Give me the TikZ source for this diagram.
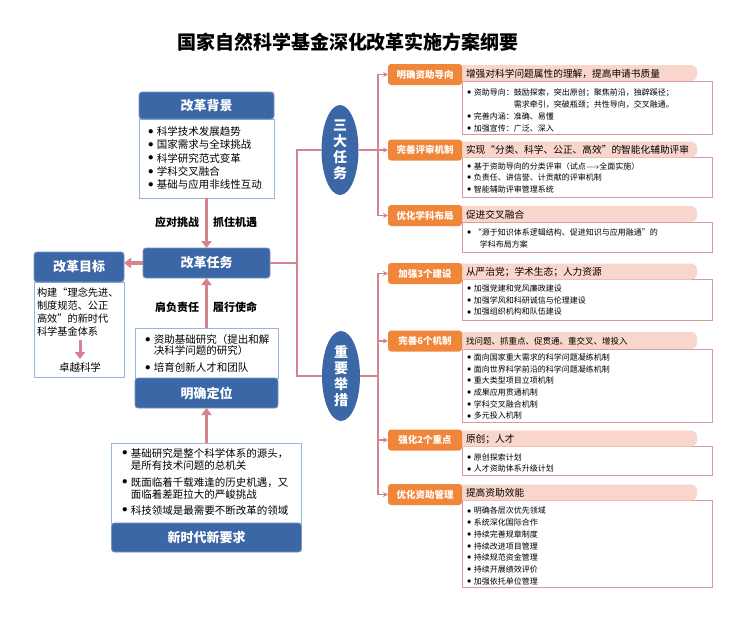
\documentclass[tikz,border=0pt]{standalone}
\usepackage{fontspec}
\setmainfont{Noto Sans CJK SC}
\usetikzlibrary{shapes.geometric,arrows.meta}
\definecolor{hblue}{RGB}{60,103,167}
\definecolor{bblue}{RGB}{150,180,222}
\definecolor{torange}{RGB}{240,134,58}
\definecolor{bpink}{RGB}{249,214,203}
\definecolor{epink}{RGB}{214,152,162}
\definecolor{lpink}{RGB}{212,132,142}
\newcommand\fsz[2]{\fontsize{#1}{#2}\selectfont}
\newcommand\bul{\makebox[0.85em][l]{\raisebox{0.1em}{$\bullet$}}}
\newcommand\ind{\hspace*{0.85em}}
\begin{document}
\begin{tikzpicture}[x=1pt,y=-1pt,line width=0.8pt,
every node/.style={inner sep=0pt,outer sep=0pt},
bluehead/.style={fill=hblue,draw=hblue!70!white,rounded corners=3pt,text=white,font=\bfseries\fsz{13}{13}},
bluebody/.style={draw=bblue,fill=white},
lefttext/.style={align=left,anchor=west,font=\fsz{10.5}{13.4}},
tagtext/.style={font=\bfseries\fsz{11}{11}},
fatarrow/.style={draw=lpink,line width=3.5pt,-{Triangle[length=7pt,width=10pt]}},
oval/.style={ellipse,fill=hblue,text=white,minimum width=37,minimum height=90,align=center,font=\bfseries\fsz{14}{16}},
pinkline/.style={draw=lpink,line width=1.2pt},
pinkarrow/.style={pinkline,-{Stealth[length=5pt,width=5pt]}},
orangetag/.style={fill=torange,rounded corners=3pt,text=white,minimum width=74,minimum height=21,font=\bfseries\fsz{9.5}{9.5}},
band/.style={fill=bpink,rounded corners=6pt,minimum width=242,minimum height=16},
bandtext/.style={anchor=west,font=\fsz{9.7}{9.7}},
pinkbody/.style={draw=epink,fill=white,line width=1pt,minimum width=250},
righttext/.style={align=left,anchor=west,font=\fsz{8}{11.7}}]
\fill[white,use as bounding box] (0,0) rectangle (756,621);
\node[font=\bfseries\fsz{19}{19}] (TT) at (348,42) {国家自然科学基金深化改革实施方案纲要};
% left column
\node[bluebody,minimum width=135,minimum height=79] (BGb) at (206.5,158.5) {};
\node[bluehead,minimum width=135,minimum height=27] (BG) at (206.5,105.5) {改革背景};
\node[lefttext] (BGt) at (148,158) {\bul 科学技术发展趋势\\ \bul 国家需求与全球挑战\\ \bul 科学研究范式变革\\ \bul 学科交叉融合\\ \bul 基础与应用非线性互动};
\node[bluehead,minimum width=127,minimum height=30] (RT) at (206.5,263) {改革任务};
\node[bluebody,minimum width=90,minimum height=95] (GLb) at (79,329.5) {};
\node[bluehead,minimum width=90,minimum height=30] (GL) at (79,267) {改革目标};
\node[lefttext,font=\fsz{10.2}{13}] (GLt) at (37,312.5) {构建“理念先进、\\制度规范、公正\\高效”的新时代\\科学基金体系};
\node[font=\fsz{10.5}{10.5}] (GLe) at (80,367) {卓越科学};
\node[bluebody,minimum width=143,minimum height=50] (PSb) at (206.5,353) {};
\node[bluehead,minimum width=143,minimum height=30] (PS) at (206.5,393) {明确定位};
\node[lefttext,font=\fsz{10.5}{11.5}] (PSt) at (145,353) {\bul 资助基础研究（提出和解\\ \ind 决科学问题的研究）\\[5pt] \bul 培育创新人才和团队};
\node[bluebody,minimum width=190,minimum height=80] (NWb) at (206.5,483) {};
\node[bluehead,minimum width=190,minimum height=29] (NW) at (206.5,537.5) {新时代新要求};
\node[lefttext,font=\fsz{10.5}{12.5}] (NWt) at (122,481.5) {\bul 基础研究是整个科学体系的源头，\\ \ind 是所有技术问题的总机关\\[4pt] \bul 既面临着千载难逢的历史机遇，又\\ \ind 面临着差距拉大的严峻挑战\\[3pt] \bul 科技领域是最需要不断改革的领域};
\draw[fatarrow] (BGb.south) -- (RT.north);
\draw[fatarrow] (PSb.north) -- (RT.south);
\draw[fatarrow] (NWb.north) -- (PS.south);
\draw[fatarrow] (RT.west) -- (RT.west -| GL.east);
\draw[fatarrow,line width=3pt,shorten <=3pt,shorten >=3pt] (GLt.south -| GLe.north) -- (GLe.north);
\node[tagtext] (A1) at (177,222) {应对挑战};
\node[tagtext] (A2) at (235,222) {抓住机遇};
\node[tagtext] (A3) at (177,307) {肩负责任};
\node[tagtext] (A4) at (235,307) {履行使命};
% two ovals
\node[oval] (E1) at (340,150) {三\\大\\任\\务};
\node[oval,minimum width=38] (E2) at (341,376) {重\\要\\举\\措};
\coordinate (J0) at (297,263);
\coordinate (J1) at (378,150);
\coordinate (J2) at (378,376);
% right column
\node[pinkbody,minimum height=53] (T1b) at (587,107.5) {};
\node[band] (T1h) at (576,73) {};
\node[orangetag] (T1) at (425,74.5) {明确资助导向};
\node[bandtext] (T1s) at (466,73.5) {增强对科学问题属性的理解，提高申请书质量};
\node[righttext,font=\fsz{8}{12}] (T1t) at (467,110) {\bul 资助导向：鼓励探索，突出原创；聚焦前沿，独辟蹊径；\\ \ind\hspace*{5em}需求牵引，突破瓶颈；共性导向，交叉融通。\\ \bul 完善内涵：准确、易懂\\ \bul 加强宣传：广泛、深入};
\node[pinkbody,minimum height=40] (T2b) at (587,177) {};
\node[band] (T2h) at (576,149.5) {};
\node[orangetag] (T2) at (425,150) {完善评审机制};
\node[bandtext] (T2s) at (466,150) {实现“分类、科学、公正、高效”的智能化辅助评审};
\node[righttext] (T2t) at (467,177.7) {\bul 基于资助导向的分类评审（试点$\longrightarrow$全面实施）\\ \bul 负责任、讲信誉、计贡献的评审机制\\ \bul 智能辅助评审管理系统};
\node[pinkbody,minimum height=30] (T3b) at (587,237) {};
\node[band] (T3h) at (576,214) {};
\node[orangetag] (T3) at (425,215.5) {优化学科布局};
\node[bandtext] (T3s) at (466,214.5) {促进交叉融合};
\node[righttext] (T3t) at (467,238.5) {\bul “源于知识体系逻辑结构、促进知识与应用融通”的\\ \ind\hspace*{0.75em}学科布局方案};
\node[pinkbody,minimum height=41] (M1b) at (587,299.5) {};
\node[band] (M1h) at (576,271.5) {};
\node[orangetag] (M1) at (425,273.5) {加强3个建设};
\node[bandtext] (M1s) at (466,272.5) {从严治党；学术生态；人力资源};
\node[righttext] (M1t) at (467,300.2) {\bul 加强党建和党风廉政建设\\ \bul 加强学风和科研诚信与伦理建设\\ \bul 加强组织机构和队伍建设};
\node[pinkbody,minimum height=73] (M2b) at (587,385.5) {};
\node[band,minimum height=17] (M2h) at (576,340.5) {};
\node[orangetag] (M2) at (425,341) {完善6个机制};
\node[bandtext,font=\fsz{8.5}{8.5}] (M2s) at (466,341) {找问题、抓重点、促贯通、重交叉、增投入};
\node[righttext] (M2t) at (467,386.5) {\bul 面向国家重大需求的科学问题凝练机制\\ \bul 面向世界科学前沿的科学问题凝练机制\\ \bul 重大类型项目立项机制\\ \bul 成果应用贯通机制\\ \bul 学科交叉融合机制\\ \bul 多元投入机制};
\node[pinkbody,minimum height=29] (M3b) at (587,460.5) {};
\node[band] (M3h) at (576,438.5) {};
\node[orangetag] (M3) at (425,440) {强化2个重点};
\node[bandtext] (M3s) at (466,439) {原创；人才};
\node[righttext] (M3t) at (467,463) {\bul 原创探索计划\\ \bul 人才资助体系升级计划};
\node[pinkbody,minimum height=87] (M4b) at (587,543.5) {};
\node[band] (M4h) at (576,492.5) {};
\node[orangetag] (M4) at (425,494.5) {优化资助管理};
\node[bandtext] (M4s) at (466,493) {提高资助效能};
\node[righttext] (M4t) at (467,546) {\bul 明确各层次优先领域\\ \bul 系统深化国际合作\\ \bul 持续完善规章制度\\ \bul 持续改进项目管理\\ \bul 持续规范资金管理\\ \bul 持续开展绩效评价\\ \bul 加强依托单位管理};
% connectors
\draw[pinkline] (RT.east) -- (J0);
\draw[pinkline] (E1.west) -| (J0) |- (E2.west);
\draw[pinkline] (E1.east) -- (J1);
\draw[pinkline] (E2.east) -- (J2);
\draw[pinkarrow] (J1) |- (T1.west);
\draw[pinkarrow] (J1) -- (T2.west);
\draw[pinkarrow] (J1) |- (T3.west);
\draw[pinkarrow] (J2) |- (M1.west);
\draw[pinkarrow] (J2) |- (M2.west);
\draw[pinkarrow] (J2) |- (M3.west);
\draw[pinkarrow] (J2) |- (M4.west);
\end{tikzpicture}
\end{document}
